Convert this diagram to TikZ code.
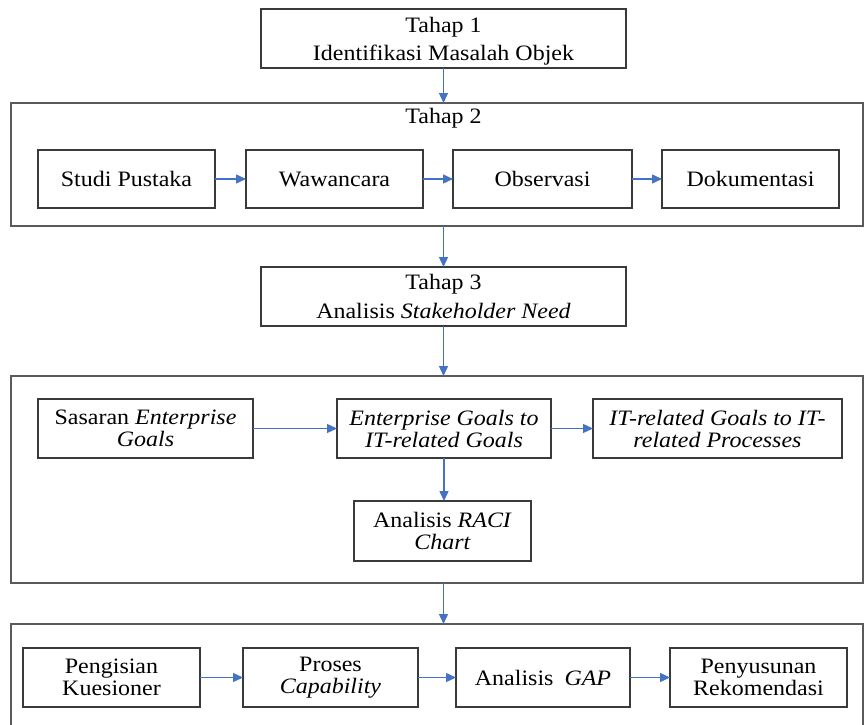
\documentclass[tikz,border=0pt]{standalone}
\usepackage{fontspec}
\setmainfont{Liberation Serif}[FakeStretch=1.09]
\usetikzlibrary{arrows.meta}
\definecolor{arrowblue}{HTML}{4472C4}
\definecolor{boxline}{HTML}{3A3A3A}
\definecolor{bigline}{HTML}{5A5A5A}
\begin{document}
\begin{tikzpicture}[x=1pt,y=-1pt,
  every node/.style={font=\fontsize{22}{22}\selectfont, inner sep=0pt, outer sep=0pt},
  bx/.style={draw=boxline, line width=1.3pt, fill=white, align=center},
  bigbox/.style={draw=bigline, line width=1.6pt},
  arr/.style={draw=arrowblue, line width=1.4pt, -{Triangle[length=10pt,width=9pt]}}
]
\useasboundingbox (0,0) rectangle (867,725);
\clip (0,0) rectangle (867,725);
\fill[white] (0,0) rectangle (867,725);

% Stage 1
\node[bx, minimum width=365pt, minimum height=59pt] (t1) at (443.5,38.5)
  {\rule{0pt}{21pt}Tahap 1\\[6pt]Identifikasi Masalah Objek};

% Stage 2
\node[bigbox, minimum width=852.3pt, minimum height=123pt] (b2) at (436.85,164.5) {};
\node (l2) at (443.5,118) {Tahap 2};
\node[bx, minimum width=177pt, minimum height=58pt] (sp) at (126.5,179) {Studi Pustaka};
\node[bx, minimum width=177pt, minimum height=58pt] (ww) at (334.5,179) {Wawancara};
\node[bx, minimum width=179pt, minimum height=58pt] (ob) at (542.5,179) {Observasi};
\node[bx, minimum width=177pt, minimum height=58pt] (dk) at (750.5,179) {Dokumentasi};

% Stage 3
\node[bx, minimum width=365pt, minimum height=59pt] (t3) at (443.5,296.5)
  {Tahap 3\\[7pt]Analisis \textit{Stakeholder Need}};

% Stage 3 detail
\node[bigbox, minimum width=852.3pt, minimum height=207pt] (b3) at (436.85,479.5) {};
\node[bx, minimum width=215pt, minimum height=59pt] (se) at (145.5,428.5)
  {Sasaran \textit{Enterprise}\\\textit{Goals}};
\node[bx, minimum width=214pt, minimum height=59pt] (eg) at (444,428.5)
  {\textit{Enterprise Goals to}\\\textit{IT-related Goals}};
\node[bx, minimum width=249pt, minimum height=59pt] (it) at (717.5,428.5)
  {\textit{IT-related Goals to IT-}\\\textit{related Processes}};
\node[bx, minimum width=177pt, minimum height=60pt] (rc) at (442.5,531)
  {Analisis \textit{RACI}\\\textit{Chart}};

% Stage 4
\node[bigbox, minimum width=852.3pt, minimum height=116pt] (b4) at (436.85,682) {};
\node[bx, minimum width=177pt, minimum height=59pt] (pk) at (111.5,677.5)
  {Pengisian\\Kuesioner};
\node[bx, minimum width=175pt, minimum height=59pt] (pc) at (330.5,677.5)
  {Proses\\\textit{Capability}};
\node[bx, minimum width=174pt, minimum height=59pt] (ga) at (543,677.5)
  {Analisis\enspace\textit{GAP}};
\node[bx, minimum width=177pt, minimum height=59pt] (pr) at (758.5,677.5)
  {Penyusunan\\Rekomendasi};

% Connectors
\draw[arr] (t1.south) -- (t1.south |- b2.north);
\draw[arr] (sp.east) -- (ww.west);
\draw[arr] (ww.east) -- (ob.west);
\draw[arr] (ob.east) -- (dk.west);
\draw[arr] (t3.north |- b2.south) -- (t3.north);
\draw[arr] (t3.south) -- (t3.south |- b3.north);
\draw[arr] (se.east) -- (eg.west);
\draw[arr] (eg.east) -- (it.west);
\draw[arr] (eg.south) -- (eg.south |- rc.north);
\draw[arr] (t3.south |- b3.south) -- (t3.south |- b4.north);
\draw[arr] (pk.east) -- (pc.west);
\draw[arr] (pc.east) -- (ga.west);
\draw[arr] (ga.east) -- (pr.west);
\end{tikzpicture}
\end{document}
